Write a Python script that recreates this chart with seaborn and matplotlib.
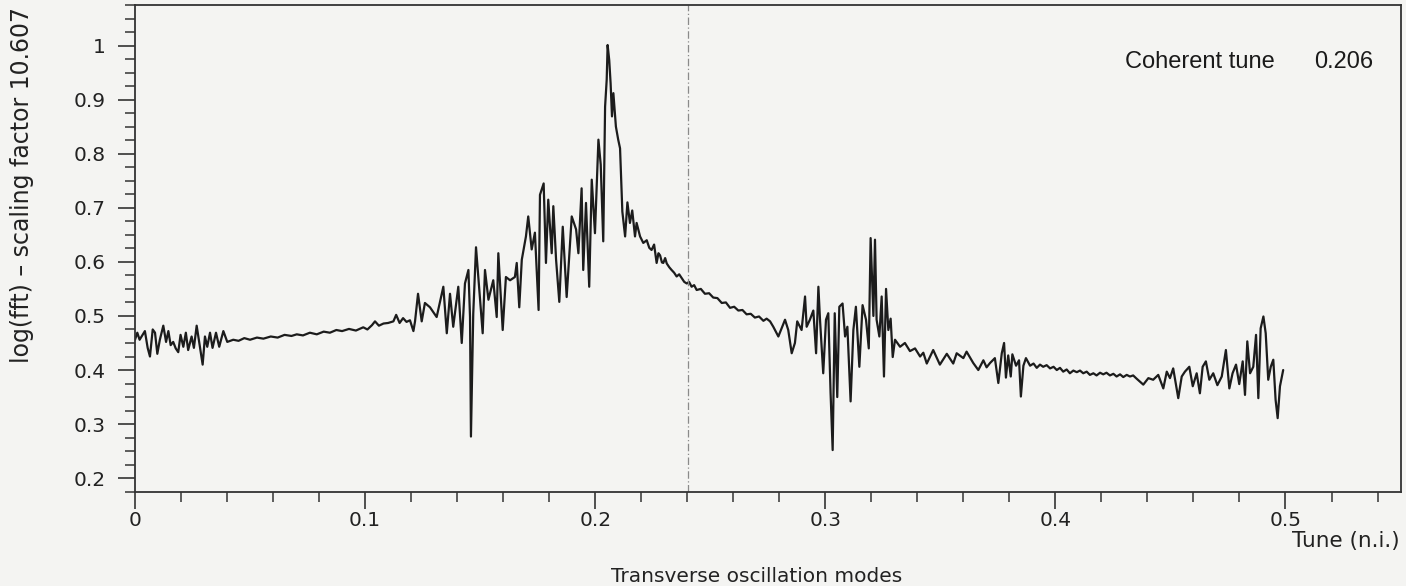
import numpy as np
import pandas as pd
import matplotlib
matplotlib.use("Agg")
import matplotlib.pyplot as plt
from matplotlib.ticker import MultipleLocator, FixedLocator, FixedFormatter
import seaborn as sns

# ---- data (tune, log amplitude), by segment ----
tune_low = [
    0.0000, 0.0010, 0.0020, 0.0043, 0.0055, 0.0065, 0.0077, 0.0087, 0.0097, 0.0108,
    0.0123, 0.0135, 0.0145, 0.0155, 0.0166, 0.0177, 0.0188, 0.0198, 0.0210, 0.0221,
    0.0231, 0.0246, 0.0256, 0.0268, 0.0280, 0.0294, 0.0304, 0.0314, 0.0326, 0.0337,
    0.0352, 0.0366, 0.0384, 0.0401, 0.0427, 0.0450, 0.0475, 0.0500, 0.0530, 0.0558,
    0.0590, 0.0620, 0.0650, 0.0680, 0.0703, 0.0730, 0.0760, 0.0790, 0.0820, 0.0847,
    0.0875, 0.0900, 0.0930, 0.0960, 0.0992, 0.1010, 0.1030, 0.1043, 0.1060, 0.1080,
    0.1100, 0.1123, 0.1135, 0.1150, 0.1165, 0.1180, 0.1195,
]
amp_low = [
    0.456, 0.469, 0.456, 0.472, 0.441, 0.425, 0.475, 0.469, 0.430, 0.456,
    0.482, 0.452, 0.472, 0.446, 0.452, 0.440, 0.433, 0.465, 0.443, 0.469,
    0.437, 0.462, 0.441, 0.482, 0.449, 0.410, 0.462, 0.443, 0.469, 0.441,
    0.469, 0.443, 0.472, 0.452, 0.456, 0.454, 0.459, 0.456, 0.460, 0.458,
    0.462, 0.460, 0.465, 0.463, 0.466, 0.464, 0.469, 0.466, 0.471, 0.469,
    0.474, 0.472, 0.476, 0.473, 0.479, 0.475, 0.483, 0.490, 0.482, 0.486,
    0.487, 0.490, 0.502, 0.487, 0.496, 0.489, 0.492,
]

tune_rise = [
    0.1210, 0.1217, 0.1230, 0.1246, 0.1260, 0.1282, 0.1311, 0.1340, 0.1355, 0.1369,
    0.1383, 0.1405, 0.1420, 0.1434, 0.1449, 0.1456, 0.1460, 0.1470, 0.1482, 0.1499,
    0.1511, 0.1521, 0.1536, 0.1557, 0.1572, 0.1579, 0.1598, 0.1612, 0.1630, 0.1651,
    0.1659, 0.1670, 0.1681, 0.1699, 0.1709, 0.1724, 0.1738, 0.1754, 0.1760, 0.1776,
    0.1786, 0.1796, 0.1811, 0.1818, 0.1830, 0.1844, 0.1859, 0.1876, 0.1898, 0.1917,
    0.1927, 0.1941, 0.1948, 0.1960, 0.1974, 0.1985, 0.1999, 0.2014, 0.2024, 0.2035,
    0.2043, 0.2050, 0.2054, 0.2061, 0.2067, 0.2073, 0.2079, 0.2090, 0.2100, 0.2108,
    0.2118, 0.2130, 0.2140, 0.2151, 0.2161, 0.2173, 0.2180, 0.2195, 0.2209,
]
amp_rise = [
    0.472, 0.490, 0.541, 0.490, 0.524, 0.516, 0.498, 0.554, 0.468, 0.541,
    0.480, 0.554, 0.450, 0.560, 0.585, 0.498, 0.277, 0.504, 0.627, 0.535,
    0.468, 0.585, 0.530, 0.566, 0.498, 0.616, 0.474, 0.572, 0.566, 0.572,
    0.598, 0.516, 0.604, 0.647, 0.684, 0.623, 0.654, 0.511, 0.724, 0.745,
    0.598, 0.715, 0.616, 0.703, 0.604, 0.526, 0.665, 0.535, 0.684, 0.660,
    0.616, 0.736, 0.585, 0.709, 0.554, 0.752, 0.653, 0.826, 0.780, 0.638,
    0.887, 0.937, 1.001, 0.973, 0.930, 0.869, 0.912, 0.850, 0.826, 0.810,
    0.693, 0.647, 0.710, 0.672, 0.695, 0.647, 0.672, 0.647, 0.635,
]

tune_decay = [
    0.2224, 0.2235, 0.2245, 0.2256, 0.2267, 0.2275, 0.2282, 0.2290, 0.2296, 0.2304,
    0.2311, 0.2322, 0.2332, 0.2343, 0.2354, 0.2365, 0.2376, 0.2387, 0.2398, 0.2408,
    0.2419, 0.2430, 0.2441, 0.2459, 0.2477, 0.2495, 0.2513, 0.2531, 0.2550, 0.2568,
    0.2586, 0.2604, 0.2622, 0.2640, 0.2658, 0.2676, 0.2694, 0.2712, 0.2731, 0.2745,
    0.2760, 0.2774,
]
amp_decay = [
    0.640, 0.626, 0.622, 0.632, 0.598, 0.616, 0.612, 0.599, 0.598, 0.607,
    0.597, 0.590, 0.585, 0.580, 0.573, 0.577, 0.570, 0.563, 0.560, 0.563,
    0.554, 0.557, 0.548, 0.550, 0.541, 0.542, 0.534, 0.533, 0.524, 0.525,
    0.515, 0.517, 0.510, 0.511, 0.503, 0.504, 0.497, 0.499, 0.491, 0.495,
    0.490, 0.480,
]

tune_burst = [
    0.2796, 0.2825, 0.2839, 0.2854, 0.2868, 0.2878, 0.2897, 0.2912, 0.2919, 0.2933,
    0.2948, 0.2960, 0.2970, 0.2977, 0.2991, 0.3003, 0.3013, 0.3023, 0.3032, 0.3041,
    0.3052, 0.3061, 0.3075, 0.3086, 0.3096, 0.3110, 0.3122, 0.3133, 0.3148, 0.3162,
    0.3177, 0.3189, 0.3197, 0.3209, 0.3216, 0.3223, 0.3235, 0.3245, 0.3255, 0.3264,
    0.3274, 0.3284, 0.3293, 0.3303,
]
amp_burst = [
    0.462, 0.493, 0.474, 0.431, 0.450, 0.490, 0.474, 0.536, 0.480, 0.493,
    0.510, 0.431, 0.554, 0.493, 0.394, 0.493, 0.505, 0.357, 0.252, 0.505,
    0.350, 0.517, 0.523, 0.462, 0.480, 0.342, 0.474, 0.517, 0.406, 0.520,
    0.493, 0.440, 0.644, 0.500, 0.641, 0.493, 0.462, 0.536, 0.388, 0.550,
    0.474, 0.495, 0.424, 0.456,
]

tune_tail = [
    0.3325, 0.3346, 0.3368, 0.3390, 0.3412, 0.3426, 0.3441, 0.3469, 0.3498, 0.3528,
    0.3556, 0.3571, 0.3600, 0.3614, 0.3643, 0.3665, 0.3687, 0.3701, 0.3716, 0.3737,
    0.3752, 0.3767, 0.3777, 0.3785, 0.3795, 0.3806, 0.3813, 0.3829, 0.3842, 0.3850,
    0.3861, 0.3872, 0.3890, 0.3905, 0.3919, 0.3933, 0.3947, 0.3962, 0.3977, 0.3992,
    0.4006, 0.4020, 0.4034, 0.4049, 0.4063, 0.4078, 0.4093, 0.4107, 0.4121, 0.4136,
    0.4150, 0.4165, 0.4179, 0.4194, 0.4208, 0.4222, 0.4237, 0.4252, 0.4266, 0.4281,
    0.4295, 0.4310, 0.4324, 0.4338, 0.4353,
]
amp_tail = [
    0.443, 0.450, 0.435, 0.440, 0.425, 0.432, 0.412, 0.437, 0.410, 0.430,
    0.412, 0.431, 0.422, 0.434, 0.413, 0.400, 0.418, 0.405, 0.413, 0.422,
    0.376, 0.431, 0.450, 0.386, 0.427, 0.388, 0.429, 0.408, 0.418, 0.351,
    0.408, 0.422, 0.408, 0.412, 0.404, 0.410, 0.406, 0.409, 0.403, 0.406,
    0.400, 0.404, 0.397, 0.401, 0.394, 0.399, 0.396, 0.399, 0.394, 0.397,
    0.391, 0.394, 0.390, 0.395, 0.392, 0.395, 0.390, 0.393, 0.388, 0.392,
    0.387, 0.391, 0.388, 0.390, 0.384,
]

tune_edge = [
    0.4382, 0.4404, 0.4425, 0.4447, 0.4469, 0.4484, 0.4498, 0.4512, 0.4534, 0.4549,
    0.4563, 0.4582, 0.4597, 0.4614, 0.4628, 0.4640, 0.4654, 0.4669, 0.4686, 0.4704,
    0.4723, 0.4741, 0.4756, 0.4770, 0.4785, 0.4799, 0.4814, 0.4824, 0.4834, 0.4846,
    0.4860, 0.4872, 0.4882, 0.4892, 0.4904, 0.4914, 0.4925, 0.4936, 0.4947, 0.4957,
    0.4966, 0.4976, 0.4990,
]
amp_edge = [
    0.373, 0.385, 0.382, 0.391, 0.366, 0.397, 0.385, 0.403, 0.348, 0.388,
    0.397, 0.406, 0.370, 0.394, 0.357, 0.406, 0.416, 0.382, 0.394, 0.372,
    0.388, 0.437, 0.366, 0.394, 0.410, 0.374, 0.416, 0.354, 0.453, 0.394,
    0.406, 0.465, 0.348, 0.477, 0.499, 0.468, 0.382, 0.406, 0.419, 0.345,
    0.311, 0.370, 0.400,
]

x_major = [0.0, 0.1, 0.2, 0.3, 0.4, 0.5]
x_major_labels = ["0", "0.1", "0.2", "0.3", "0.4", "0.5"]
y_major = [0.2, 0.3, 0.4, 0.5, 0.6, 0.7, 0.8, 0.9, 1.0]
y_major_labels = ["0.2", "0.3", "0.4", "0.5", "0.6", "0.7", "0.8", "0.9", "1"]
marker_tune = 0.2403
coherent_tune_label = "Coherent tune"
coherent_tune_value = "0.206"

tune = tune_low + tune_rise + tune_decay + tune_burst + tune_tail + tune_edge
amplitude = amp_low + amp_rise + amp_decay + amp_burst + amp_tail + amp_edge
df = pd.DataFrame({"tune": tune, "amplitude": amplitude})

sns.set_style("ticks")
plt.rcParams["font.family"] = ["DejaVu Sans"]

bg = "#f4f4f2"
ink = "#1c1c1c"
fig = plt.figure(figsize=(14.06, 5.86), dpi=100, facecolor=bg)
ax = fig.add_axes([135 / 1406, 94.3 / 586, (1401 - 135) / 1406, (581 - 94.3) / 586])
ax.set_facecolor(bg)

sns.lineplot(data=df, x="tune", y="amplitude", ax=ax, sort=False, estimator=None,
             color=ink, linewidth=1.6)

ax.axvline(marker_tune, color="#8a8a8a", linewidth=0.9, linestyle=(0, (6, 2, 1, 2)))

ax.set_xlim(0, 0.5502)
ax.set_ylim(0.175, 1.075)

ax.xaxis.set_major_locator(FixedLocator(x_major))
ax.xaxis.set_major_formatter(FixedFormatter(x_major_labels))
ax.xaxis.set_minor_locator(MultipleLocator(0.02))
ax.yaxis.set_major_locator(FixedLocator(y_major))
ax.yaxis.set_major_formatter(FixedFormatter(y_major_labels))
ax.yaxis.set_minor_locator(MultipleLocator(0.025))

ax.tick_params(axis="both", which="major", direction="out", length=12, width=1.2,
               color="#333333", labelsize=14.5, labelcolor="#222222")
ax.tick_params(axis="both", which="minor", direction="out", length=7, width=1.1,
               color="#333333")
ax.tick_params(axis="x", which="major", pad=2)
ax.tick_params(axis="y", which="major", pad=9)

for s in ax.spines.values():
    s.set_visible(True)
    s.set_linewidth(1.3)
    s.set_color("#333333")

ax.set_xlabel("")
ax.set_ylabel("log(fft) \u2013 scaling factor 10.607", fontsize=17, color="#222222")
ax.yaxis.set_label_coords(-0.080, 0.63)

fig.text(1400 / 1406, 1 - 541 / 586, "Tune (n.i.)", ha="right", va="center",
         fontsize=15.5, color="#222222")
fig.text(757 / 1406, 1 - 577 / 586, "Transverse oscillation modes", ha="center",
         va="center", fontsize=14.5, color="#222222")

fig.text(1275 / 1406, 1 - 62 / 586, coherent_tune_label, ha="right", va="center",
         fontsize=17, family=["Liberation Sans", "DejaVu Sans"], color="#1a1a1a")
fig.text(1373 / 1406, 1 - 62 / 586, coherent_tune_value, ha="right", va="center",
         fontsize=17, family=["Liberation Sans", "DejaVu Sans"], color="#1a1a1a")

fig.savefig("out.png", dpi=100, facecolor=bg)
